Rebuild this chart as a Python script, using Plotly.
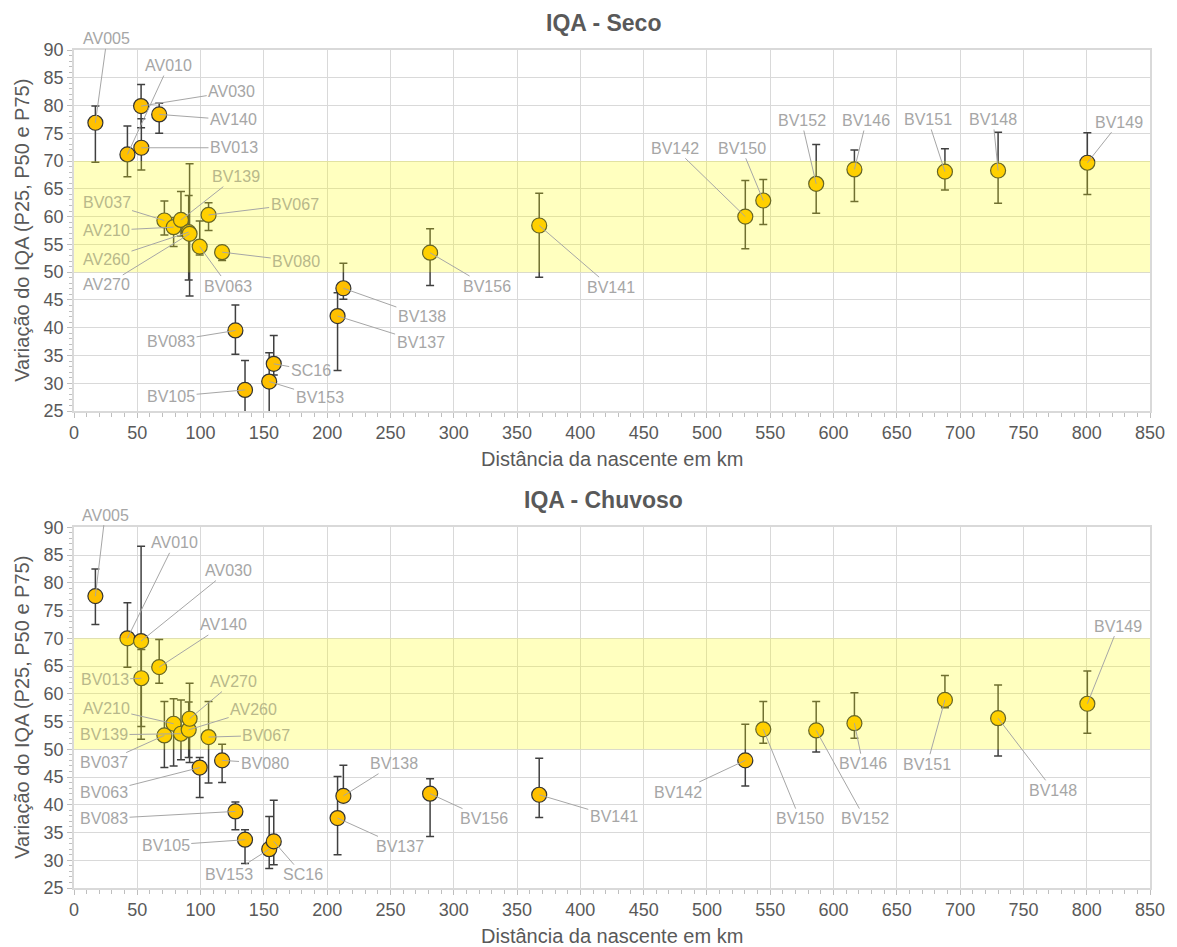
import plotly.graph_objects as go

# Estações de monitoramento e distância da nascente (km)
estacoes = ["AV005", "AV010", "AV030", "BV013", "AV140", "BV037", "AV210", "BV139",
            "AV260", "AV270", "BV063", "BV067", "BV080", "BV083", "BV105", "BV153",
            "SC16", "BV137", "BV138", "BV156", "BV141", "BV142", "BV150", "BV152",
            "BV146", "BV151", "BV148", "BV149"]
distancia_km = [16.9, 42.2, 53.0, 53.2, 67.3, 71.4, 78.7, 84.5,
                90.6, 91.3, 99.3, 106.3, 117.0, 127.5, 135.1, 154.2,
                157.8, 208.2, 212.8, 281.3, 367.5, 530.3, 544.5, 586.3,
                616.5, 688.0, 730.0, 800.5]

# IQA - período seco (percentis 25, 50 e 75)
seco_p25 = [69.8, 67.2, 76.0, 68.4, 75.0, 56.7, 54.6, 56.5,
            48.6, 45.7, 53.1, 57.5, 52.1, 35.2, 22.0, 22.0,
            31.5, 32.3, 45.1, 47.6, 49.1, 54.2, 58.6, 60.6,
            62.7, 64.8, 62.4, 64.0]
seco_p50 = [76.9, 71.2, 79.9, 72.4, 78.4, 59.3, 58.1, 59.4,
            57.2, 56.9, 54.6, 60.3, 53.6, 39.5, 28.8, 30.3,
            33.5, 42.1, 47.1, 53.5, 58.4, 60.0, 62.9, 65.9,
            68.5, 68.1, 68.3, 69.7]
seco_p75 = [79.9, 76.3, 83.8, 77.6, 80.4, 62.8, 59.8, 64.5,
            63.8, 69.5, 59.2, 62.5, 54.6, 44.1, 34.1, 35.5,
            38.6, 46.3, 51.6, 57.8, 64.2, 66.5, 66.7, 73.0,
            72.0, 72.2, 75.2, 75.1]

# IQA - período chuvoso (percentis 25, 50 e 75)
chuvoso_p25 = [72.5, 64.8, 51.8, 54.1, 61.9, 46.7, 47.0, 48.1,
               48.5, 47.6, 41.3, 43.9, 44.0, 35.5, 29.4, 28.5,
               29.2, 31.0, 40.5, 34.3, 37.7, 43.4, 51.1, 49.5,
               52.0, 57.5, 48.8, 52.9]
chuvoso_p50 = [77.6, 70.0, 69.5, 62.8, 64.8, 52.5, 54.6, 52.8,
               53.5, 55.5, 46.7, 52.2, 48.0, 38.8, 33.7, 32.0,
               33.4, 37.6, 41.6, 42.0, 41.8, 48.0, 53.6, 53.4,
               54.7, 58.9, 55.6, 58.2]
chuvoso_p75 = [82.5, 76.4, 86.6, 68.0, 69.8, 58.6, 59.1, 58.9,
               58.5, 61.9, 48.5, 58.6, 50.9, 40.5, 35.5, 37.9,
               40.8, 45.1, 47.1, 44.7, 48.4, 54.5, 58.6, 58.6,
               60.2, 63.3, 61.6, 64.1]

# Faixa de referência do IQA destacada em amarelo
faixa_min, faixa_max = 50, 70

# Posição dos rótulos (centro do texto, em coordenadas do gráfico)
rotulos_seco = {
    "AV005": (26, 92.0), "AV010": (74.6, 87.2), "AV030": (124.6, 82.5),
    "AV140": (125.9, 77.4), "BV013": (126.4, 72.4), "BV139": (128, 67.2),
    "BV037": (25.7, 62.5), "BV067": (174.3, 62.2), "AV210": (25.7, 57.5),
    "AV260": (25.7, 52.3), "BV080": (175.6, 52.0), "AV270": (25.7, 47.7),
    "BV063": (121.9, 47.5), "BV083": (76.7, 37.6), "SC16": (187, 32.3),
    "BV105": (76.7, 27.6), "BV153": (194, 27.5), "BV138": (274.8, 42.1),
    "BV137": (273.8, 37.4), "BV156": (325.9, 47.5), "BV141": (424, 47.3),
    "BV142": (474.8, 72.3), "BV150": (527.4, 72.3), "BV152": (574.7, 77.3),
    "BV146": (625.9, 77.3), "BV151": (674.6, 77.5), "BV148": (726, 77.5),
    "BV149": (825.9, 77.0),
}
rotulos_chuvoso = {
    "AV005": (24.5, 92.2), "AV010": (79.4, 87.2), "AV030": (121.9, 82.2),
    "AV140": (118.2, 72.4), "BV013": (24.2, 62.5), "AV270": (126.3, 62.2),
    "AV210": (25.5, 57.4), "AV260": (141.9, 57.1), "BV139": (23.7, 52.6),
    "BV067": (152, 52.5), "BV037": (23.7, 47.6), "BV080": (150.5, 47.5),
    "BV063": (23.7, 42.3), "BV083": (23.7, 37.5), "BV105": (72.5, 32.7),
    "BV153": (122.8, 27.4), "SC16": (180.7, 27.4), "BV138": (253.1, 47.4),
    "BV137": (257.6, 32.5), "BV156": (324, 37.5), "BV141": (426.4, 37.8),
    "BV142": (477, 42.3), "BV150": (573.3, 37.5), "BV152": (624.8, 37.5),
    "BV146": (623.1, 47.4), "BV151": (674, 47.3), "BV148": (773.6, 42.6),
    "BV149": (825, 72.2),
}

FONTE = "Arial, Liberation Sans, sans-serif"
COR_TEXTO = "#595959"
COR_ROTULO = "#A6A6A6"
COR_ROTULO_FAIXA = "#B8B88A"
COR_GRADE = "#D9D9D9"

fig = go.Figure()

paineis = [
    ("x", "y", seco_p25, seco_p50, seco_p75, rotulos_seco),
    ("x2", "y2", chuvoso_p25, chuvoso_p50, chuvoso_p75, rotulos_chuvoso),
]

anotacoes = []
formas = []
for xr, yr, p25, p50, p75, rotulos in paineis:
    fig.add_trace(go.Scatter(
        x=distancia_km, y=p50, xaxis=xr, yaxis=yr, mode="markers",
        marker=dict(size=15, color="#FFC000", line=dict(color="#333333", width=1.2)),
        error_y=dict(type="data", symmetric=False,
                     array=[a - b for a, b in zip(p75, p50)],
                     arrayminus=[b - c for b, c in zip(p50, p25)],
                     color="#404040", thickness=1.5, width=4),
        text=estacoes, hoverinfo="text+x+y", showlegend=False,
    ))
    formas.append(dict(type="rect", xref=xr, yref=yr, x0=0, x1=850,
                       y0=faixa_min, y1=faixa_max, layer="above",
                       fillcolor="rgba(255,255,0,0.25)", line=dict(width=0)))
    for nome, km, v in zip(estacoes, distancia_km, p50):
        lx, ly = rotulos[nome]
        cor = COR_ROTULO_FAIXA if faixa_min < ly < faixa_max else COR_ROTULO
        anotacoes.append(dict(
            x=km, y=v, xref=xr, yref=yr, ax=lx, ay=ly, axref=xr, ayref=yr,
            text=nome, showarrow=True, arrowhead=0, arrowwidth=1,
            arrowcolor=COR_ROTULO, standoff=0, startstandoff=0,
            font=dict(family=FONTE, size=16, color=cor),
        ))

# Títulos e rótulos dos eixos
L, R, T, B = 74, 21, 50, 59
W, H = 1177, 947
pw, ph = W - L - R, H - T - B


def px(xp):
    return (xp - L) / pw


def py(yp):
    return (H - B - yp) / ph


for titulo, ty, xty, yty in [("IQA - Seco", 23, 459, 230.5),
                             ("IQA - Chuvoso", 500, 936, 707.5)]:
    anotacoes.append(dict(text="<b>" + titulo + "</b>", xref="paper", yref="paper",
                          x=px(606), y=py(ty), xanchor="center", yanchor="middle",
                          showarrow=False,
                          font=dict(family=FONTE, size=23, color=COR_TEXTO)))
    anotacoes.append(dict(text="Distância da nascente em km", xref="paper", yref="paper",
                          x=px(615), y=py(xty), xanchor="center", yanchor="middle",
                          showarrow=False,
                          font=dict(family=FONTE, size=20, color=COR_TEXTO)))
    anotacoes.append(dict(text="Variação do IQA (P25, P50 e P75)", xref="paper",
                          yref="paper", x=px(21), y=py(yty), xanchor="center",
                          yanchor="middle", showarrow=False, textangle=-90,
                          font=dict(family=FONTE, size=20, color=COR_TEXTO)))

eixo_x = dict(range=[0, 850], dtick=50, tick0=0, showgrid=True, gridcolor=COR_GRADE,
              gridwidth=1, showline=True, linecolor=COR_GRADE, linewidth=1.5,
              mirror=True, zeroline=False, ticks="outside", ticklen=5,
              tickcolor="#BFBFBF", tickfont=dict(family=FONTE, size=18, color=COR_TEXTO),
              minor=dict(dtick=10, ticks="outside", ticklen=4, tickcolor="#BFBFBF",
                         showgrid=False))
eixo_y = dict(range=[25, 90], dtick=5, tick0=25, showgrid=True, gridcolor=COR_GRADE,
              gridwidth=1, showline=True, linecolor=COR_GRADE, linewidth=1.5,
              mirror=True, zeroline=False, ticks="outside", ticklen=5,
              tickcolor="#BFBFBF", tickfont=dict(family=FONTE, size=18, color=COR_TEXTO),
              minor=dict(dtick=1, ticks="outside", ticklen=3, tickcolor="#BFBFBF",
                         showgrid=False))

topo_inf = py(411)
base_sup = py(527.3)

fig.update_layout(
    width=W, height=H, margin=dict(l=L, r=R, t=T, b=B),
    paper_bgcolor="white", plot_bgcolor="white",
    font=dict(family=FONTE, color=COR_TEXTO),
    xaxis=dict(eixo_x, domain=[0, 1], anchor="y"),
    yaxis=dict(eixo_y, domain=[topo_inf, 1], anchor="x"),
    xaxis2=dict(eixo_x, domain=[0, 1], anchor="y2"),
    yaxis2=dict(eixo_y, domain=[0, base_sup], anchor="x2"),
    shapes=formas, annotations=anotacoes,
)

fig.write_html("out.html")
